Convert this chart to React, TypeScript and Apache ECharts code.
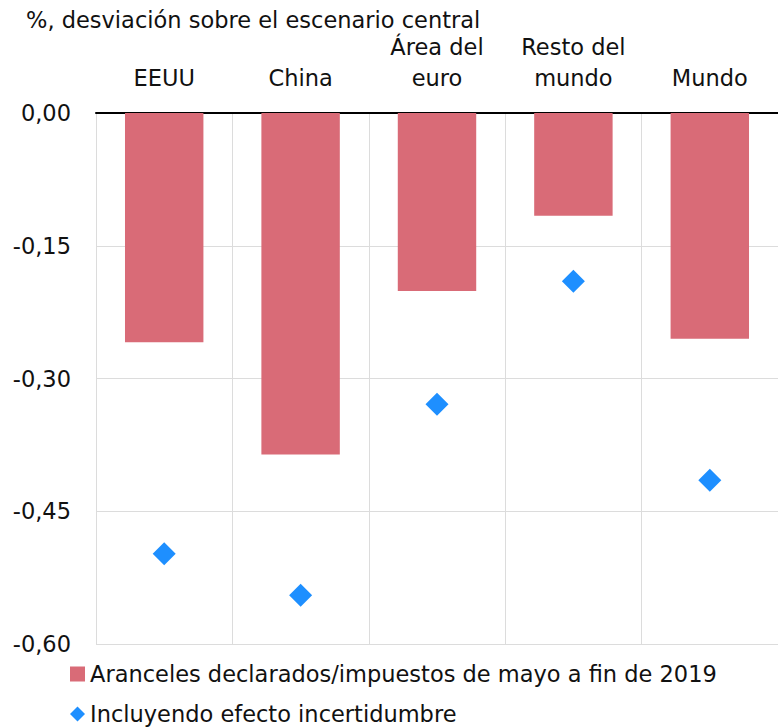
import React, { useEffect, useRef } from "react";
import * as echarts from "echarts";

const categories = ["EEUU", "China", "Área del\neuro", "Resto del\nmundo", "Mundo"];
const arancelesValues = [-0.259, -0.386, -0.201, -0.116, -0.255];
const incertidumbreValues = [-0.498, -0.545, -0.329, -0.19, -0.415];
const yTicks = { min: -0.6, max: 0, interval: 0.15 };
const seriesNames = [
  "Aranceles declarados/impuestos de mayo a fin de 2019",
  "Incluyendo efecto incertidumbre",
];
const titleText = "%, desviación sobre el escenario central";

const FONT = "'DejaVu Sans', 'Liberation Sans', Arial, sans-serif";
const FS = 22.5;

export default function App() {
  const ref = useRef<HTMLDivElement>(null);
  useEffect(() => {
    if (!ref.current) return;
    const chart = echarts.init(ref.current, null, { renderer: "svg" });
    chart.setOption({
      animation: false,
      textStyle: { fontFamily: FONT },
      title: {
        text: titleText,
        left: 21,
        top: 3,
        textStyle: { fontFamily: FONT, fontSize: FS, fontWeight: "normal", color: "#111" },
      },
      grid: { left: 96, top: 113, right: -5, bottom: 83, containLabel: false },
      legend: {
        orient: "vertical",
        left: 70,
        top: 662,
        padding: 0,
        itemWidth: 15,
        itemHeight: 15,
        itemGap: 16,
        textStyle: { fontFamily: FONT, fontSize: FS, color: "#111", lineHeight: 24 },
        data: [
          { name: seriesNames[0], icon: "rect" },
          { name: seriesNames[1], icon: "diamond" },
        ],
      },
      xAxis: {
        type: "category",
        position: "top",
        data: categories,
        axisLine: { show: true, lineStyle: { color: "#000", width: 2 } },
        axisTick: { show: false },
        axisLabel: {
          interval: 0,
          fontFamily: FONT,
          fontSize: FS,
          color: "#111",
          lineHeight: 31,
          margin: 20,
        },
        splitLine: { show: true, lineStyle: { color: "#dcdcdc", width: 1 } },
      },
      yAxis: {
        type: "value",
        min: yTicks.min,
        max: yTicks.max,
        interval: yTicks.interval,
        axisLine: { show: false },
        axisTick: { show: false },
        axisLabel: {
          fontFamily: FONT,
          fontSize: FS,
          color: "#111",
          margin: 25,
          formatter: (v: number) => v.toFixed(2).replace(".", ","),
        },
        splitLine: { show: true, lineStyle: { color: "#dcdcdc", width: 1 } },
      },
      series: [
        {
          name: seriesNames[0],
          type: "bar",
          data: arancelesValues,
          barWidth: "57.5%",
          itemStyle: { color: "#D96B77" },
        },
        {
          name: seriesNames[1],
          type: "scatter",
          data: incertidumbreValues,
          symbol: "diamond",
          symbolSize: 23,
          itemStyle: { color: "#1E8FFF", opacity: 1 },
          z: 3,
        },
      ],
    });
    return () => chart.dispose();
  }, []);
  return (
    <div
      ref={ref}
      style={{ position: "absolute", left: 0, top: 0, width: 778, height: 727 }}
    />
  );
}
